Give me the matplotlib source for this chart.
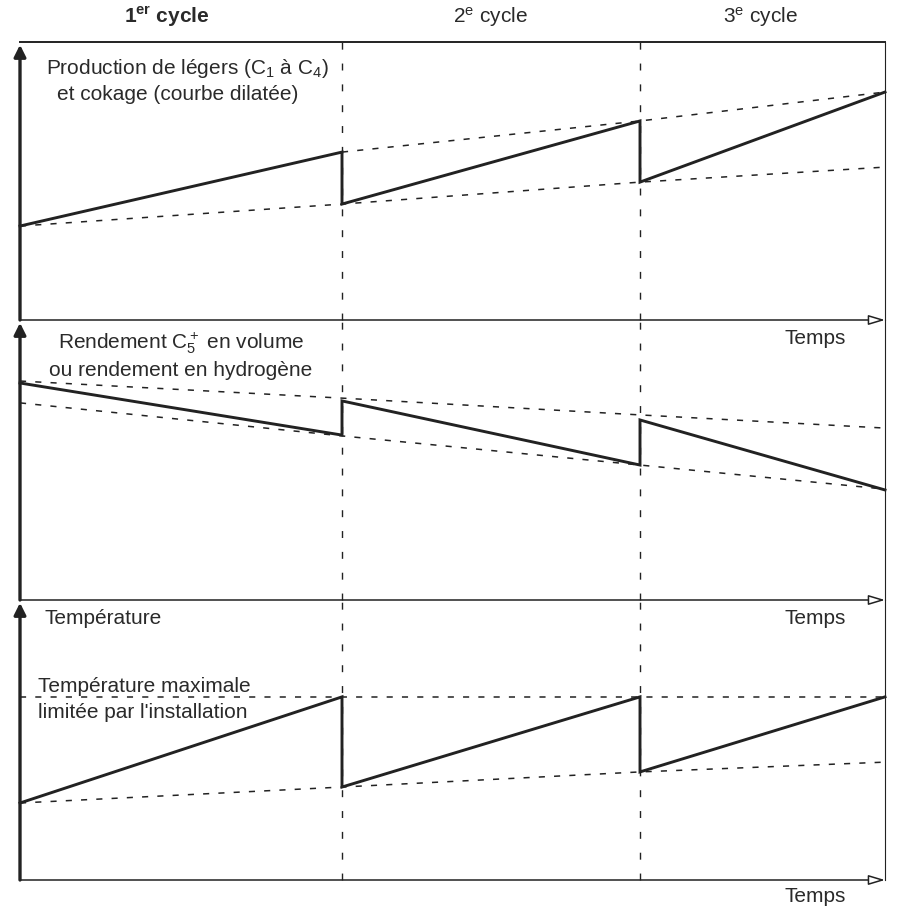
import matplotlib
matplotlib.use("Agg")
import matplotlib.pyplot as plt

plt.rcParams['font.family'] = ['Liberation Sans', 'DejaVu Sans']
plt.rcParams['mathtext.fontset'] = 'custom'
plt.rcParams['mathtext.rm'] = 'Liberation Sans'
plt.rcParams['mathtext.it'] = 'Liberation Sans:italic'
plt.rcParams['mathtext.bf'] = 'Liberation Sans:bold'

# limites des cycles (unités de temps arbitraires)
cycle_bounds = [0.0, 3.22, 6.20, 8.65]
cycle_labels = [r"1$^{\mathbf{er}}$ cycle", r"2$^{\mathrm{e}}$ cycle", r"3$^{\mathrm{e}}$ cycle"]

# panneau 1 : production de légers et cokage
leg_start = [33.8, 41.7, 49.6]
leg_end = [60.4, 71.6, 82.0]
leg_upper = [60.4, 71.6, 82.0]          # de la fin du 1er cycle à la fin
leg_lower = [33.8, 41.7, 49.6, 55.0]

# panneau 2 : rendement C5+ / hydrogène
rend_start = [77.5, 71.1, 64.3]
rend_end = [58.9, 48.2, 39.3]
rend_upper = [78.2, 72.1, 66.1, 61.4]
rend_lower = [70.4, 58.6, 48.2, 39.6]

# panneau 3 : température
temp_start = [27.5, 33.2, 38.6]
temp_end = [65.4, 65.4, 65.4]
temp_max = 65.4
temp_lower = [27.5, 33.2, 38.6, 42.1]

W, H = 904, 909
INK = '#222222'
TXT = '#2a2a2a'
FS = 15


def fx(x):
    return x / W


def fy(y):
    return 1 - y / H


def sawtooth(starts, ends):
    xs, ys = [], []
    for i in range(len(starts)):
        xs += [cycle_bounds[i], cycle_bounds[i + 1]]
        ys += [starts[i], ends[i]]
    return xs, ys


def make_panel(top, bottom):
    ax = fig.add_axes([fx(20), fy(bottom), fx(865), (bottom - top) / H])
    ax.set_xlim(cycle_bounds[0], cycle_bounds[-1])
    ax.set_ylim(0, 100)
    ax.axis('off')
    # séparations des cycles
    for c in cycle_bounds[1:-1]:
        ax.axvline(c, color=INK, lw=1.0, ls=(0, (5, 10)), clip_on=False)
    # bord droit
    ax.axvline(cycle_bounds[-1], color=INK, lw=0.8, clip_on=False)
    # axe du temps
    ax.annotate('', xy=(1.0, 0), xytext=(0, 0), xycoords='axes fraction',
                arrowprops=dict(arrowstyle='-|>,head_length=1.0,head_width=0.3',
                                fc='white', ec=INK, lw=1.1, shrinkA=0, shrinkB=0))
    # axe vertical
    ax.annotate('', xy=(0, 0.99), xytext=(0, 0), xycoords='axes fraction',
                arrowprops=dict(arrowstyle='-|>,head_length=0.7,head_width=0.35',
                                fc=INK, ec=INK, lw=2.4, shrinkA=0, shrinkB=0))
    return ax


def draw_curves(ax, starts, ends, lower, upper=None, upper_x=None):
    xs, ys = sawtooth(starts, ends)
    ax.plot(xs, ys, color=INK, lw=2.1, clip_on=False, solid_joinstyle='miter')
    ax.plot(cycle_bounds, lower, color=INK, lw=1.1, ls=(0, (4, 6)), clip_on=False)
    if upper is not None:
        ax.plot(upper_x, upper, color=INK, lw=1.1, ls=(0, (4, 6)), clip_on=False)


fig = plt.figure(figsize=(W / 100, H / 100), dpi=100)

ax1 = make_panel(42, 320)
ax1.plot([0, 1], [1, 1], transform=ax1.transAxes, color=INK, lw=1.4, clip_on=False)
draw_curves(ax1, leg_start, leg_end, leg_lower, leg_upper, cycle_bounds[1:])

ax2 = make_panel(320, 600)
draw_curves(ax2, rend_start, rend_end, rend_lower, rend_upper, cycle_bounds)

ax3 = make_panel(600, 880)
ax3.axhline(temp_max, color=INK, lw=1.1, ls=(0, (4, 6)), clip_on=False)
draw_curves(ax3, temp_start, temp_end, temp_lower)

# titres des cycles
centers = [167, 490, 760]
for lab, cx in zip(cycle_labels, centers):
    fig.text(fx(cx), fy(17), lab, ha='center', va='center', fontsize=FS,
             color=TXT, fontweight='bold' if cx == 167 else 'normal')

# libellés
fig.text(fx(187), fy(68), r"Production de légers (C$_1$ à C$_4$)", ha='center',
         va='center', fontsize=FS, color=TXT)
fig.text(fx(178), fy(95), "et cokage (courbe dilatée)", ha='center', va='center',
         fontsize=FS, color=TXT)
fig.text(fx(181), fy(343), r"Rendement C$_5^+$ en volume", ha='center', va='center',
         fontsize=FS, color=TXT)
fig.text(fx(181), fy(370), "ou rendement en hydrogène", ha='center', va='center',
         fontsize=FS, color=TXT)
fig.text(fx(45), fy(618), "Température", ha='left', va='center', fontsize=FS,
         color=TXT)
fig.text(fx(38), fy(686), "Température maximale", ha='left', va='center',
         fontsize=FS, color=TXT)
fig.text(fx(38), fy(712), "limitée par l'installation", ha='left', va='center',
         fontsize=FS, color=TXT)
for ty in [338, 618, 897]:
    fig.text(fx(846), fy(ty), "Temps", ha='right', va='center', fontsize=FS,
             color=TXT)

fig.savefig('out.png', dpi=100)
